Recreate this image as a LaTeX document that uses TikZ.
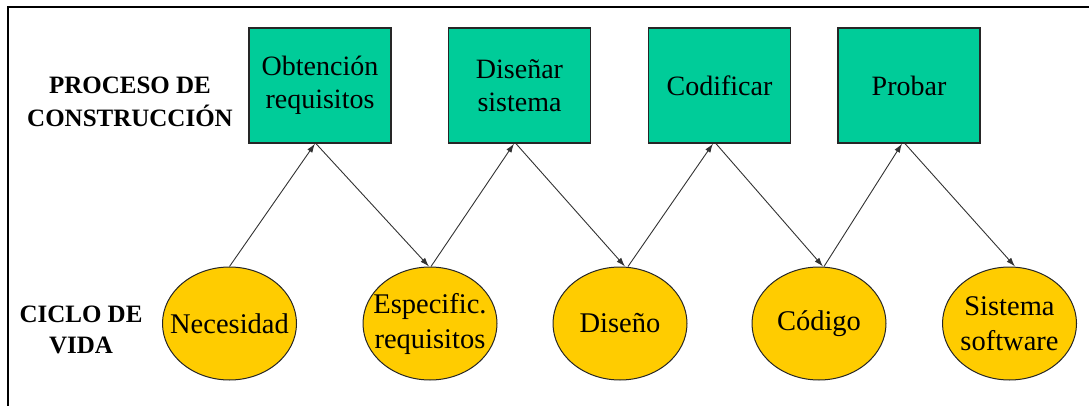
\documentclass[tikz,border=0pt]{standalone}
\usepackage{fontspec}
\setmainfont{Liberation Serif}
\usetikzlibrary{shapes.geometric,arrows.meta}
\definecolor{boxgreen}{RGB}{0,204,153}
\definecolor{ellyellow}{RGB}{255,204,0}
\definecolor{linegrey}{RGB}{50,50,50}
\tikzset{
  procbox/.style={draw=black!85, line width=1.3pt, fill=boxgreen, minimum width=142pt, minimum height=115pt, inner sep=0pt, align=center, font=\fontsize{28}{33}\selectfont},
  lifeell/.style={ellipse, draw=black!85, line width=1pt, fill=ellyellow, minimum width=134pt, minimum height=113pt, inner sep=0pt,
    label={[align=center, font=\fontsize{28.5}{35}\selectfont, inner sep=0pt]center:#1}},
  rowlabel/.style={align=center, font=\fontsize{25}{33}\selectfont\bfseries},
  conn/.style={draw=linegrey, line width=0.9pt, -{Latex[length=9pt,width=6pt]}}
}
\begin{document}
\begin{tikzpicture}[x=1pt,y=-1pt]
\useasboundingbox (0,0) rectangle (1089,406);
\draw[line width=2.3pt] (1089,7) -- (8,7) -- (8,406);
\node[rowlabel] (lp) at (130,102) {PROCESO DE\\CONSTRUCCIÓN};
\node[rowlabel, font=\fontsize{25}{31}\selectfont\bfseries] (lc) at (81,330) {CICLO DE\\VIDA};
\node[procbox] (b1) at (320,85.5) {Obtención\\requisitos};
\node[procbox] (b2) at (519.5,85.5) {Diseñar\\sistema};
\node[procbox] (b3) at (719.5,85.5) {Codificar};
\node[procbox] (b4) at (909,85.5) {Probar};
\node[lifeell={Necesidad}] (e1) at (229.5,323.5) {};
\node[lifeell={Especific.\\requisitos}] (e2) at (430,323.5) {};
\node[lifeell={Diseño}] (e3) at (620,323.5) {};
\node[lifeell={Código}] (e4) at (819,323.5) {};
\node[lifeell={Sistema\\software}] (e5) at (1009.5,323.5) {};
\draw[conn] ([xshift=0pt]e1.north) -- ([xshift=-5pt]b1.south);
\draw[conn] ([xshift=-4pt]b1.south) -- ([xshift=-1pt]e2.north);
\draw[conn] ([xshift=1pt]e2.north) -- ([xshift=-5.5pt]b2.south);
\draw[conn] ([xshift=-3.5pt]b2.south) -- ([xshift=5pt]e3.north);
\draw[conn] ([xshift=8pt]e3.north) -- ([xshift=-6.5pt]b3.south);
\draw[conn] ([xshift=-3.5pt]b3.south) -- ([xshift=4pt]e4.north);
\draw[conn] ([xshift=5pt]e4.north) -- ([xshift=-7pt]b4.south);
\draw[conn] ([xshift=-4pt]b4.south) -- ([xshift=5.5pt]e5.north);
\end{tikzpicture}
\end{document}
